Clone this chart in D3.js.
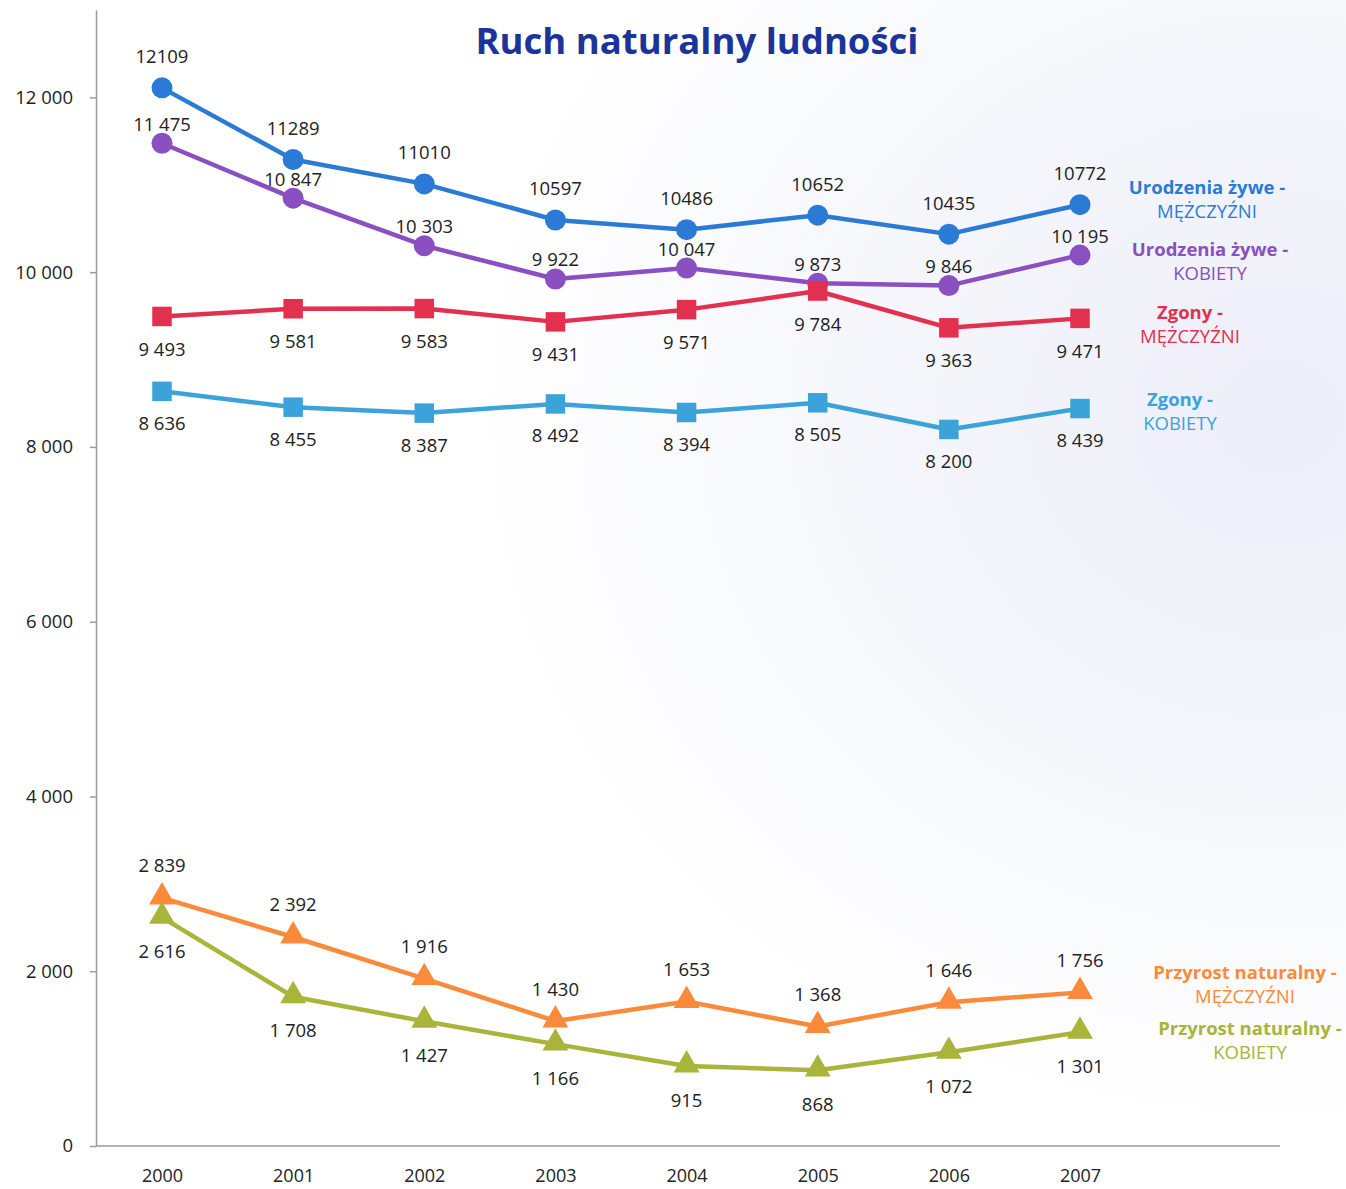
<!DOCTYPE html>
<html><head><meta charset="utf-8">
<script src="https://cdn.jsdelivr.net/npm/d3@7"></script>
<style>body{margin:0;background:#fff}svg{display:block}</style>
</head><body>
<script>
const years = ["2000","2001","2002","2003","2004","2005","2006","2007"];
const urodzeniaM = [12109,11289,11010,10597,10486,10652,10435,10772];
const urodzeniaK = [11475,10847,10303,9922,10047,9873,9846,10195];
const zgonyM = [9493,9581,9583,9431,9571,9784,9363,9471];
const zgonyK = [8636,8455,8387,8492,8394,8505,8200,8439];
const przyrostM = [2839,2392,1916,1430,1653,1368,1646,1756];
const przyrostK = [2616,1708,1427,1166,915,868,1072,1301];
const yTicks = [0,2000,4000,6000,8000,10000,12000];

const series = [
  {name:"Urodzenia żywe -", sub:"MĘŻCZYŹNI", values:urodzeniaM, color:"#2b7bd6", shape:"circle", dy:-31, spaced:false, lx:1207, ly:188},
  {name:"Urodzenia żywe -", sub:"KOBIETY", values:urodzeniaK, color:"#8a4fc0", shape:"circle", dy:-19, spaced:true, lx:1210, ly:250},
  {name:"Zgony -", sub:"MĘŻCZYŹNI", values:zgonyM, color:"#e2304e", shape:"square", dy:33, spaced:true, lx:1190, ly:313},
  {name:"Zgony -", sub:"KOBIETY", values:zgonyK, color:"#3ba3d9", shape:"square", dy:32, spaced:true, lx:1180, ly:400},
  {name:"Przyrost naturalny -", sub:"MĘŻCZYŹNI", values:przyrostM, color:"#fb8a3a", shape:"triangle", dy:-32, spaced:true, lx:1245, ly:973},
  {name:"Przyrost naturalny -", sub:"KOBIETY", values:przyrostK, color:"#a9b43a", shape:"triangle", dy:34, spaced:true, lx:1250, ly:1029}
];

const W = 1346, H = 1189;
const FONT = "'Open Sans', Lato, sans-serif";
const svg = d3.select("body").append("svg").attr("width",W).attr("height",H)
  .style("font-family",FONT);

const defs = svg.append("defs");
const grad = defs.append("radialGradient").attr("id","bg").attr("cx","0.95").attr("cy","0.35").attr("r","0.6");
grad.append("stop").attr("offset","0").attr("stop-color","#eceef8");
grad.append("stop").attr("offset","1").attr("stop-color","#ffffff");
svg.append("rect").attr("width",W).attr("height",H).attr("fill","url(#bg)");

const x = d3.scalePoint().domain(years).range([162,1080]);
const y = d3.scaleLinear().domain([0,13000]).range([1146,10]);

const fmtSpace = v => { const s = String(v); return s.length>3 ? s.slice(0,s.length-3)+" "+s.slice(-3) : s; };

// Axes
const yAxis = d3.axisLeft(y).tickValues(yTicks).tickFormat(fmtSpace).tickSize(6).tickSizeOuter(0);
const gy = svg.append("g").attr("transform","translate(96,0)").call(yAxis);
gy.select(".domain").attr("stroke","#9a9aa4").attr("stroke-width",1.5);
gy.selectAll(".tick line").attr("stroke","#9a9aa4").attr("stroke-width",1.5);
gy.selectAll(".tick text").attr("font-size",18.5).attr("fill","#222").attr("x",-23).attr("font-family",FONT);

const xAxis = d3.axisBottom(x).tickSize(0).tickSizeOuter(0);
const gx = svg.append("g").attr("transform","translate(0,1146)").call(xAxis);
gx.select(".domain").remove();
gx.append("line").attr("x1",96).attr("x2",1280).attr("y1",0).attr("y2",0).attr("stroke","#9a9aa4").attr("stroke-width",1.5);
gx.selectAll(".tick text").attr("font-size",18).attr("fill","#222").attr("y",0).attr("dy",0)
  .attr("transform","translate(0,36)").attr("font-family",FONT);

// Title
svg.append("text").attr("x",697).attr("y",54).attr("text-anchor","middle")
  .attr("font-size",36.5).attr("font-weight","bold").attr("fill","#1b3499").text("Ruch naturalny ludności");

const line = d3.line().x((d,i)=>x(years[i])).y(d=>y(d));
const tri = d3.symbol().type(d3.symbolTriangle).size(290);
const sq = d3.symbol().type(d3.symbolSquare).size(380);

series.forEach(s => {
  const g = svg.append("g");
  g.append("path").datum(s.values).attr("d",line).attr("fill","none")
    .attr("stroke",s.color).attr("stroke-width",4.5).attr("stroke-linejoin","round");
  s.values.forEach((v,i) => {
    const cx = x(years[i]), cy = y(v);
    if (s.shape==="circle") g.append("circle").attr("cx",cx).attr("cy",cy).attr("r",10.5).attr("fill",s.color);
    else if (s.shape==="square") g.append("path").attr("d",sq()).attr("transform",`translate(${cx},${cy})`).attr("fill",s.color);
    else g.append("path").attr("d",tri()).attr("transform",`translate(${cx},${cy-1})`).attr("fill",s.color);
  });
  s.values.forEach((v,i) => {
    g.append("text").attr("x",x(years[i])).attr("y",y(v)+s.dy).attr("dy","0.35em")
      .attr("text-anchor","middle").attr("font-size",18.5).attr("fill","#222")
      .text(s.spaced ? fmtSpace(v) : String(v));
  });
  const lg = svg.append("g").attr("fill",s.color).attr("font-size",18.5).attr("text-anchor","middle");
  lg.append("text").attr("x",s.lx).attr("y",s.ly).attr("dy","0.35em").attr("font-weight","bold").text(s.name);
  lg.append("text").attr("x",s.lx).attr("y",s.ly+24).attr("dy","0.35em").text(s.sub);
});
</script>
</body></html>
